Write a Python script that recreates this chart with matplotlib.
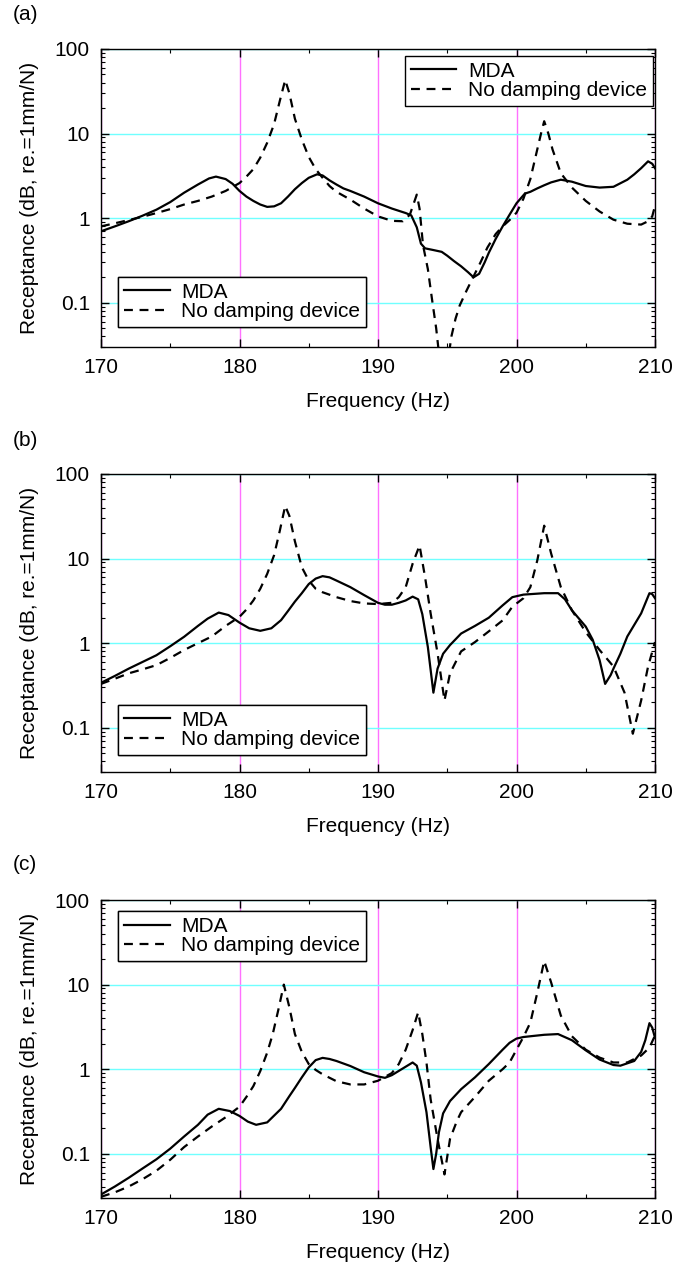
import numpy as np
import matplotlib
matplotlib.use("Agg")
import matplotlib.pyplot as plt
from matplotlib.ticker import FixedLocator, LogLocator, NullFormatter

plt.rcParams['font.family'] = ['Liberation Sans', 'DejaVu Sans']

# (frequency Hz, receptance)
mda_a = [(170, 0.70), (171, 0.80), (172, 0.92), (173, 1.07), (174, 1.26), (175, 1.55), (176, 2.0),
         (177, 2.5), (177.8, 2.95), (178.3, 3.1), (179, 2.9), (179.5, 2.55), (180, 2.1), (180.5, 1.8),
         (181, 1.6), (181.5, 1.45), (182, 1.36), (182.5, 1.38), (183, 1.5), (183.5, 1.8), (184, 2.2),
         (184.5, 2.6), (185, 3.0), (185.6, 3.3), (186, 3.2), (186.5, 2.8), (187, 2.5), (187.5, 2.25),
         (188, 2.1), (189, 1.8), (190, 1.5), (191, 1.3), (192, 1.15), (192.4, 1.08), (192.8, 0.78),
         (193.1, 0.5), (193.4, 0.44), (194, 0.42), (194.6, 0.40), (195, 0.36), (195.5, 0.31),
         (196, 0.27), (196.5, 0.23), (196.9, 0.20), (197.3, 0.22), (197.7, 0.30), (198, 0.39),
         (198.5, 0.57), (199, 0.80), (199.5, 1.1), (200, 1.5), (200.6, 1.95), (201, 2.05),
         (201.5, 2.25), (202, 2.45), (202.5, 2.65), (203.2, 2.85), (204, 2.7), (205, 2.4), (206, 2.3),
         (207, 2.35), (208, 2.85), (208.5, 3.3), (209, 3.9), (209.5, 4.7), (209.8, 4.4), (210, 3.9)]
nodamp_a = [(170, 0.8), (171, 0.87), (172, 0.95), (173, 1.04), (174, 1.15), (175, 1.28), (176, 1.45),
            (177, 1.6), (178, 1.8), (179, 2.1), (180, 2.6), (180.5, 3.1), (181, 3.8), (181.5, 5.2),
            (182, 7.8), (182.5, 13), (182.9, 24), (183.3, 43), (183.6, 30), (184, 15), (184.5, 8.5),
            (185, 5.3), (185.5, 3.8), (186, 3.0), (186.5, 2.4), (187, 2.05), (188, 1.66), (189, 1.3),
            (190, 1.05), (191, 0.93), (191.8, 0.92), (192.3, 1.1), (192.8, 1.9), (193.0, 1.3),
            (193.25, 0.48), (193.6, 0.25), (193.9, 0.11), (194.2, 0.05), (194.5, 0.018), (195.0, 0.018),
            (195.3, 0.04), (195.6, 0.065), (195.9, 0.093), (196.4, 0.14), (196.8, 0.19), (197.4, 0.3),
            (197.9, 0.45), (198.5, 0.65), (199, 0.8), (199.5, 0.95), (200, 1.16), (200.5, 1.7),
            (201, 2.9), (201.5, 6.5), (201.8, 10.5), (202, 14), (202.3, 10), (202.6, 6.5), (203.2, 3.4),
            (204, 2.3), (205, 1.6), (206, 1.2), (207, 0.96), (208, 0.86), (209, 0.84), (209.5, 0.92),
            (209.8, 1.05), (210, 1.4)]

mda_b = [(170, 0.34), (171, 0.41), (172, 0.50), (173, 0.60), (174, 0.72), (175, 0.92), (176, 1.19),
         (177, 1.6), (177.7, 1.95), (178.5, 2.3), (179.2, 2.15), (180, 1.75), (180.7, 1.5), (181.5, 1.4),
         (182.3, 1.5), (183, 1.87), (183.5, 2.4), (184, 3.1), (184.5, 3.9), (185, 5.0), (185.5, 5.8),
         (186, 6.2), (186.5, 6.0), (187, 5.5), (188, 4.6), (189, 3.7), (190, 3.0), (190.5, 2.85),
         (191, 2.85), (191.5, 3.0), (192, 3.2), (192.5, 3.55), (192.9, 3.3), (193.2, 2.2), (193.6, 0.9),
         (194, 0.26), (194.3, 0.5), (194.7, 0.75), (195.2, 0.95), (196, 1.3), (197, 1.6), (198, 2.0),
         (199, 2.8), (199.7, 3.5), (200.5, 3.75), (201, 3.8), (202, 3.9), (203, 3.9), (203.5, 3.3),
         (204, 2.45), (205, 1.57), (205.5, 1.1), (206, 0.63), (206.4, 0.33), (206.8, 0.42), (207, 0.50),
         (207.5, 0.75), (208, 1.2), (209, 2.25), (209.6, 3.9), (209.8, 3.8), (210, 3.4)]
nodamp_b = [(170, 0.33), (171, 0.38), (172, 0.44), (173, 0.49), (174, 0.55), (175, 0.67), (176, 0.83),
            (177, 1.0), (178, 1.2), (179, 1.6), (180, 2.05), (180.5, 2.5), (181, 3.2), (181.5, 4.4),
            (182, 6.6), (182.5, 11), (182.9, 21), (183.3, 42), (183.6, 32), (184, 16), (184.5, 7.9),
            (185, 5.5), (185.5, 4.4), (186, 4.0), (187, 3.5), (188, 3.15), (189, 2.95), (190, 2.9),
            (191, 3.0), (191.5, 3.5), (192, 4.6), (192.5, 8.7), (193, 14.3), (193.4, 6.0), (193.8, 2.25),
            (194.3, 0.76), (194.8, 0.21), (195.2, 0.44), (196, 0.8), (197, 1.03), (198, 1.38), (199, 1.86),
            (199.7, 2.7), (200.5, 3.4), (201, 4.6), (201.5, 9.5), (202, 24.5), (202.5, 11.5), (203.2, 4.6),
            (204, 2.45), (205, 1.35), (206, 0.83), (207, 0.53), (207.8, 0.26), (208.4, 0.085), (209, 0.21),
            (209.5, 0.53), (210, 1.03)]

mda_c = [(170, 0.033), (171, 0.041), (172, 0.052), (173, 0.067), (174, 0.086), (175, 0.115), (176, 0.16),
         (177, 0.22), (177.7, 0.29), (178.5, 0.34), (179.3, 0.32), (180, 0.28), (180.6, 0.24), (181.2, 0.22),
         (182, 0.235), (183, 0.34), (183.6, 0.48), (184, 0.6), (184.5, 0.8), (185, 1.05), (185.5, 1.28),
         (186, 1.36), (186.5, 1.32), (187, 1.25), (188, 1.09), (189, 0.92), (190, 0.82), (190.5, 0.79),
         (191, 0.85), (192, 1.07), (192.5, 1.2), (192.8, 1.1), (193.1, 0.7), (193.5, 0.31), (193.8, 0.12),
         (194, 0.066), (194.2, 0.1), (194.4, 0.18), (194.7, 0.3), (195.2, 0.42), (196, 0.58), (197, 0.8),
         (198, 1.15), (199, 1.7), (199.5, 2.05), (200, 2.3), (200.5, 2.4), (201, 2.45), (202, 2.55),
         (203, 2.6), (204, 2.2), (205, 1.67), (206, 1.3), (207, 1.12), (207.5, 1.1), (208.5, 1.25),
         (209, 1.6), (209.3, 2.2), (209.6, 3.5), (209.8, 3.1), (210, 2.35)]
nodamp_c = [(170, 0.031), (171, 0.035), (172, 0.041), (173, 0.05), (174, 0.063), (175, 0.085), (176, 0.12),
            (177, 0.16), (178, 0.21), (179, 0.27), (180, 0.36), (180.5, 0.47), (181, 0.63), (181.5, 0.95),
            (182, 1.57), (182.4, 2.6), (182.8, 5.0), (183.2, 10), (183.6, 5.4), (184, 2.6), (184.5, 1.6),
            (185, 1.15), (185.5, 0.98), (186, 0.87), (187, 0.72), (188, 0.66), (189, 0.66), (190, 0.73),
            (191, 0.9), (191.5, 1.15), (192, 1.7), (192.5, 2.9), (192.9, 4.7), (193.2, 2.6), (193.5, 1.2),
            (193.8, 0.44), (194.3, 0.15), (194.8, 0.057), (195.2, 0.15), (195.7, 0.245), (196, 0.31),
            (197, 0.47), (198, 0.73), (199, 1.0), (199.5, 1.2), (200, 1.7), (200.5, 2.4), (201, 3.55),
            (201.5, 8), (202, 19), (202.5, 10.6), (203.2, 4.3), (204, 2.45), (205, 1.7), (206, 1.37),
            (207, 1.2), (208, 1.2), (209, 1.45), (209.6, 1.8), (210, 2.5)]

panel_labels = ['(a)', '(b)', '(c)']
legend_names = ['MDA', 'No damping device']
x_ticks = [170, 180, 190, 200, 210]
y_ticks = [0.1, 1, 10, 100]
y_ticklabels = ['0.1', '1', '10', '100']

FS = 15
W, H = 674, 1267
fig = plt.figure(figsize=(W / 100, H / 100), dpi=100)


def draw_panel(ax, mda, nodamp, legend_spots):
    f1, v1 = np.array(mda).T
    f2, v2 = np.array(nodamp).T
    ax.set_yscale('log')
    l1, = ax.plot(f1, v1, color='black', lw=1.6, zorder=3)
    l2, = ax.plot(f2, v2, color='black', lw=1.6, ls=(0, (4, 3)), zorder=3)
    ax.set_xlim(170, 210)
    ax.set_ylim(0.03, 100)

    ax.set_xticks(x_ticks)
    ax.xaxis.set_minor_locator(FixedLocator([175, 185, 195, 205]))
    ax.set_yticks(y_ticks)
    ax.set_yticklabels(y_ticklabels)
    ax.yaxis.set_minor_locator(LogLocator(base=10, subs=np.arange(2, 10)))
    ax.yaxis.set_minor_formatter(NullFormatter())
    ax.tick_params(which='both', direction='in', top=True, right=True, labelsize=FS, pad=8)
    ax.tick_params(which='major', length=6, width=1)
    ax.tick_params(which='minor', length=3, width=0.8)

    ax.xaxis.grid(True, color='#ff70ff', lw=1.0, zorder=1)
    ax.yaxis.grid(True, color='#70ffff', lw=1.0, zorder=1)
    ax.set_axisbelow(True)
    for s in ax.spines.values():
        s.set_linewidth(1.0)
        s.set_zorder(4)

    ax.set_xlabel('Frequency (Hz)', fontsize=FS, labelpad=11)
    ax.set_ylabel('Receptance (dB, re.=1mm/N)', fontsize=FS, labelpad=11)

    for loc, anchor in legend_spots:
        leg = ax.legend([l1, l2], legend_names, loc=loc, bbox_to_anchor=anchor, fontsize=FS,
                        frameon=True, fancybox=False, framealpha=1, edgecolor='black',
                        handlelength=2.2, handletextpad=0.55, borderpad=0.28, labelspacing=0.02,
                        borderaxespad=0)
        leg.get_frame().set_linewidth(1.0)
        leg.set_zorder(5)
        ax.add_artist(leg)


left = 101 / W
width = 554 / W
height = 298 / H
panels = [
    (347, mda_a, nodamp_a, [('upper right', (0.996, 0.977)), ('lower left', (0.031, 0.067))]),
    (772, mda_b, nodamp_b, [('lower left', (0.031, 0.057))]),
    (1198, mda_c, nodamp_c, [('upper left', (0.031, 0.963))]),
]
for i, (bottom_px, mda, nodamp, spots) in enumerate(panels):
    ax = fig.add_axes([left, 1 - bottom_px / H, width, height])
    draw_panel(ax, mda, nodamp, spots)
    fig.text(13 / W, 1 - (15 + 425 * i) / H, panel_labels[i], fontsize=FS, va='center', ha='left')

fig.savefig('out.png', dpi=100)
